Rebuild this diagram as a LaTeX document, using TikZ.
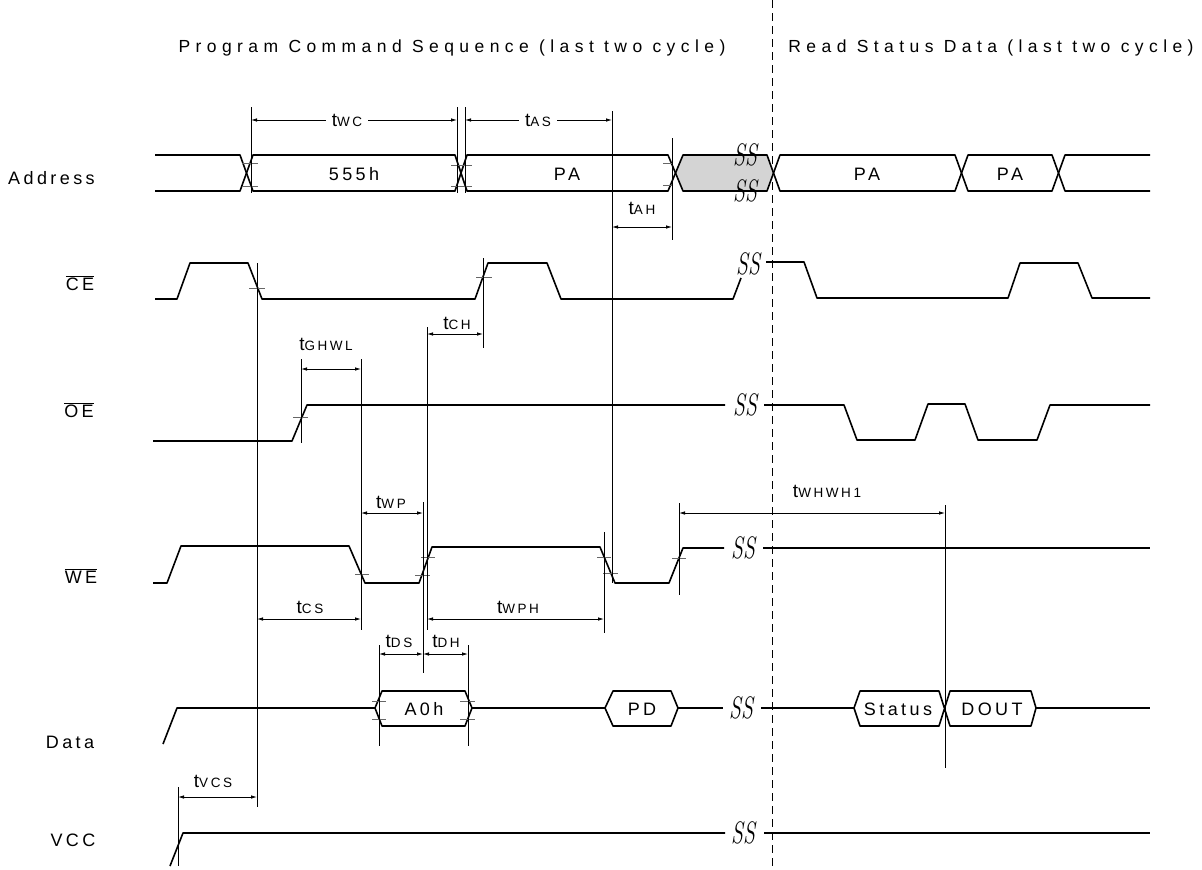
\documentclass[tikz,border=0pt]{standalone}
\usepackage{fontspec}
\setmainfont{Liberation Sans}
\newfontfamily\lsp{Liberation Sans}[LetterSpace=19]
\newfontfamily\tsp{Liberation Sans}[LetterSpace=31]
\newfontfamily\ssf{Latin Modern Roman}
\usetikzlibrary{arrows.meta}
\newcommand\tl[1]{{\lsp\fontsize{19}{20}\selectfont t\fontsize{13.5}{14}\selectfont #1}}
\begin{document}
\begin{tikzpicture}[x=1pt,y=-1pt,
  sig/.style={line width=1.6pt, line join=round},
  ref/.style={line width=0.8pt},
  tk/.style={line width=0.8pt, black!60},
  dim/.style={line width=0.8pt, {Latex[length=6pt,width=3.5pt]}-{Latex[length=6pt,width=3.5pt]}},
  lab/.style={font=\lsp\fontsize{18}{19}\selectfont, inner sep=1pt},
  ttl/.style={font=\tsp\fontsize{17.5}{19}\selectfont, inner sep=1pt},
  tlab/.style={inner sep=1pt},
  ssym/.style={font=\ssf\itshape\fontsize{31}{31}\selectfont, inner sep=0pt}]
\useasboundingbox (0,0) rectangle (1202,870);

% titles
\node[ttl] (title1) at (452,48) {Program Command Sequence (last two cycle)};
\node[ttl] (title2) at (991,48) {Read Status Data (last two cycle)};
\draw[line width=0.8pt, dash pattern=on 8pt off 5pt] (772,0) -- (772,870);

% row labels
\node[lab, anchor=west] (lAddr) at (7,178) {Address};
\node[lab] (lCE) at (80,283) {$\overline{\mbox{CE}}$};
\node[lab] (lOE) at (79,410) {$\overline{\mbox{OE}}$};
\node[lab] (lWE) at (81,576) {$\overline{\mbox{WE}}$};
\node[lab] (lData) at (70,742) {Data};
\node[lab] (lVCC) at (73,840) {VCC};

% ---------- Address ----------
\fill[black!17] (675.5,173) -- (683,155) -- (767,155) -- (773.5,173) -- (767,191) -- (683,191) -- cycle;
\draw[sig] (155,155) -- (240,155) -- (253,191) -- (455,191) -- (467,155) -- (668,155) -- (683,191) -- (767,191) -- (780,155) -- (955,155) -- (968,191) -- (1052,191) -- (1065,155) -- (1150,155);
\draw[sig] (155,191) -- (240,191) -- (253,155) -- (455,155) -- (467,191) -- (668,191) -- (683,155) -- (767,155) -- (780,191) -- (955,191) -- (968,155) -- (1052,155) -- (1065,191) -- (1150,191);
\node[lab] (a555) at (354,174) {555h};
\node[lab] (aPA1) at (567,174) {PA};
\node[lab] (aPA2) at (867,174) {PA};
\node[lab] (aPA3) at (1010,174) {PA};
\node[ssym] (ssA1) at (745,155) {\scalebox{0.7}[1]{SS}};
\node[ssym] (ssA2) at (745,191) {\scalebox{0.7}[1]{SS}};
% ticks address
\draw[tk] (242,163) -- (258,163) (242,186) -- (258,186);
\draw[tk] (451,165) -- (472,165) (451,186) -- (472,186);
\draw[tk] (663,163) -- (673,163) (663,185) -- (673,185);

% ---------- CE ----------
\draw[sig] (155,299) -- (177,299) -- (190,263) -- (248,263) -- (262,299) -- (475,299) -- (488,263) -- (547,263) -- (561,299) -- (733,299) -- (741,278);
\draw[sig] (766,262) -- (804,262) -- (817,298) -- (1008,298) -- (1020,263) -- (1078,263) -- (1092,298) -- (1150,298);
\node[ssym] (ssCE) at (748,264) {\scalebox{0.7}[1]{SS}};
\draw[tk] (249,288) -- (265,288);
\draw[tk] (476,277) -- (492,277);

% ---------- OE ----------
\draw[sig] (153,441) -- (292,441) -- (307,405) -- (725,405);
\draw[sig] (764,405) -- (844,405) -- (857,440) -- (915,440) -- (928,404) -- (965,404) -- (978,440) -- (1037,440) -- (1050,405) -- (1150,405);
\node[ssym] (ssOE) at (745,405) {\scalebox{0.7}[1]{SS}};
\draw[tk] (293,417) -- (308,417);

% ---------- WE ----------
\draw[sig] (153,583) -- (167,583) -- (181,546) -- (349,546) -- (365,583) -- (419,583) -- (432,547) -- (600,547) -- (615,583) -- (669,583) -- (683,548) -- (724,548);
\draw[sig] (763,548) -- (1150,548);
\node[ssym] (ssWE) at (743,548) {\scalebox{0.7}[1]{SS}};
\draw[tk] (355,574) -- (369,574);
\draw[tk] (415,575) -- (430,575) (421,557) -- (435,557);
\draw[tk] (597,557) -- (611,557) (603,573) -- (618,573);
\draw[tk] (672,558) -- (686,558);

% ---------- Data ----------
\draw[sig] (163,744) -- (177,708) -- (375,708) -- (382,691) -- (465,691) -- (472,708) -- (465,726) -- (382,726) -- (375,708);
\draw[sig] (472,708) -- (605,708) -- (613,691) -- (671,691) -- (678,708) -- (671,726) -- (613,726) -- (605,708);
\draw[sig] (678,708) -- (723,708);
\draw[sig] (761,708) -- (854,708) -- (860,691) -- (939,691) -- (950,726) -- (1031,726) -- (1036,708) -- (1031,691) -- (950,691) -- (939,726) -- (860,726) -- (854,708);
\draw[sig] (1036,708) -- (1150,708);
\node[lab] (dA0h) at (424,709) {A0h};
\node[lab] (dPD) at (642,709) {PD};
\node[lab] (dStat) at (898,709) {Status};
\node[lab] (dDOUT) at (992,709) {DOUT};
\node[ssym] (ssD) at (741,708) {\scalebox{0.7}[1]{SS}};
\draw[tk] (372,701) -- (386,701) (372,719) -- (386,719);
\draw[tk] (460,701) -- (475,701) (460,719) -- (475,719);

% ---------- VCC ----------
\draw[sig] (170,866) -- (183,833) -- (725,833);
\draw[sig] (764,833) -- (1150,833);
\node[ssym] (ssV) at (743,833) {\scalebox{0.7}[1]{SS}};

% ---------- reference lines ----------
\draw[ref] (251,107) -- (251,193);
\draw[ref] (457,107) -- (457,193);
\draw[ref] (465,107) -- (465,193);
\draw[ref] (612,111) -- (612,583);
\draw[ref] (672,138) -- (672,240);
\draw[ref] (257,263) -- (257,807);
\draw[ref] (483,258) -- (483,348);
\draw[ref] (427,327) -- (427,630);
\draw[ref] (301,359) -- (301,443);
\draw[ref] (361,359) -- (361,630);
\draw[ref] (423,502) -- (423,673);
\draw[ref] (604,532) -- (604,633);
\draw[ref] (679,503) -- (679,595);
\draw[ref] (945,505) -- (945,768);
\draw[ref] (379,645) -- (379,746);
\draw[ref] (468,645) -- (468,746);
\draw[ref] (178,787) -- (178,866);

% ---------- dimension arrows ----------
\draw[dim] (251,120) -- (457,120);
\node[tlab, fill=white, inner xsep=6pt] (ltWC) at (347,120) {\tl{WC}};
\draw[dim] (465,120) -- (612,120);
\node[tlab, fill=white, inner xsep=6pt] (ltAS) at (538,120) {\tl{AS}};
\draw[dim] (612,227) -- (672,227);
\node[tlab] (ltAH) at (642,208) {\tl{AH}};
\draw[dim] (427,334) -- (483,334);
\node[tlab] (ltCH) at (457,323) {\tl{CH}};
\draw[dim] (301,369) -- (361,369);
\node[tlab] (ltGHWL) at (326,344) {\tl{GHWL}};
\draw[dim] (361,513) -- (423,513);
\node[tlab] (ltWP) at (391,502) {\tl{WP}};
\draw[dim] (679,513) -- (945,513);
\node[tlab] (ltWHWH) at (827,491) {\tl{WHWH1}};
\draw[dim] (257,619) -- (361,619);
\node[tlab] (ltCS) at (310,607) {\tl{CS}};
\draw[dim] (427,619) -- (604,619);
\node[tlab] (ltWPH) at (518,607) {\tl{WPH}};
\draw[dim] (379,654) -- (423,654);
\node[tlab] (ltDS) at (399,641) {\tl{DS}};
\draw[dim] (423,654) -- (468,654);
\node[tlab] (ltDH) at (446,641) {\tl{DH}};
\draw[dim] (178,797) -- (257,797);
\node[tlab] (ltVCS) at (213,781) {\tl{VCS}};
\end{tikzpicture}
\end{document}
